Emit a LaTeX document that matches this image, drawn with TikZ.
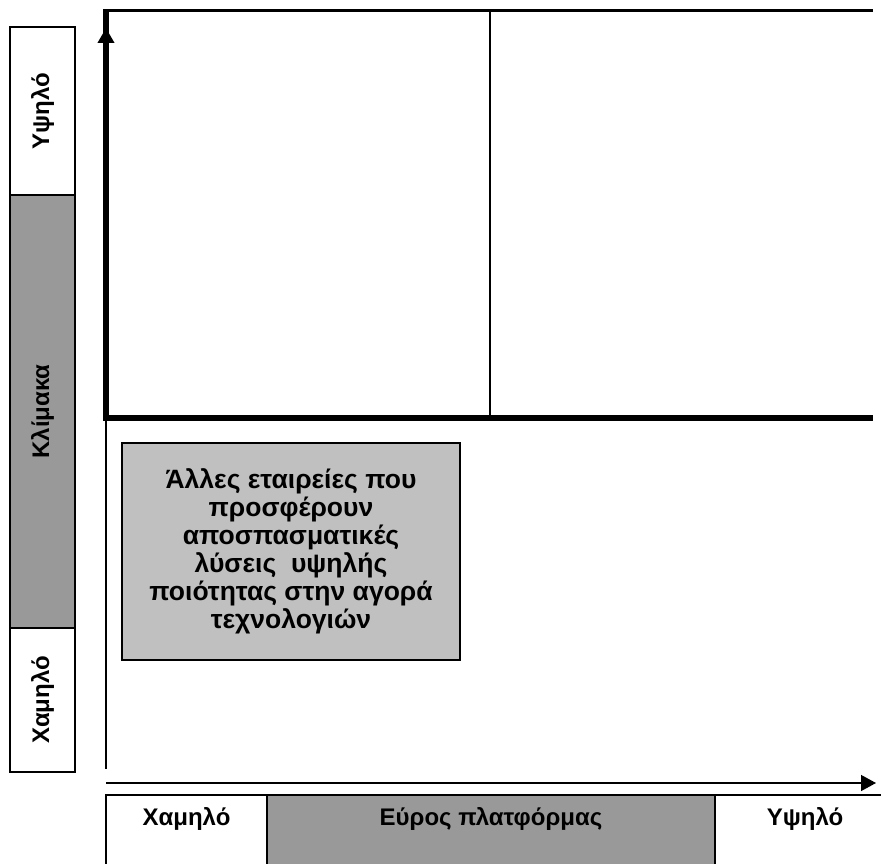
\documentclass[tikz,border=0pt]{standalone}
\usepackage{fontspec}
\setmainfont{Liberation Sans}
\usetikzlibrary{arrows.meta,positioning}

\definecolor{darkband}{HTML}{999999}
\definecolor{lightbox}{HTML}{C0C0C0}

\begin{document}
\begin{tikzpicture}[x=1pt,y=-1pt,
    band/.style={draw,line width=1.4pt,inner sep=0pt,outer sep=0pt,font=\bfseries\fontsize{24}{24}\selectfont},
    sideband/.style={band,rotate=90,minimum height=65},
    footband/.style={band,anchor=north west,minimum height=80,text height=30,text depth=50},
    axisarrow/.style={-{Triangle[length=15pt,width=16pt]}},
    note/.style={draw,line width=1.4pt,fill=lightbox,align=center,inner sep=0pt,
      minimum width=338,minimum height=217,
      font=\bfseries\fontsize{26.5}{28}\selectfont}]
  \clip (0,0) rectangle (881,864);
  % vertical scale
  \node[sideband,minimum width=168] (yhigh) at (42.5,111) {Υψηλό};
  \node[sideband,minimum width=433,fill=darkband] (yscale) at (42.5,411.5) {Κλίμακα};
  \node[sideband,minimum width=144] (ylow) at (42.5,700) {Χαμηλό};
  % horizontal scale
  \node[footband,minimum width=161] (xlow) at (106,795) {Χαμηλό};
  \node[footband,minimum width=448,fill=darkband,right=0pt of xlow] (xrange) {Εύρος πλατφόρμας};
  \node[footband,minimum width=180,right=0pt of xrange] (xhigh) {Υψηλό};
  % axes and frame
  \coordinate (o) at (106,418);
  \coordinate (tl) at (106,10.5);
  \coordinate (ytip) at (106,28);
  \coordinate (tm) at (490,10.5);
  \coordinate (tr) at (873,10.5);
  \coordinate (mm) at (490,418);
  \coordinate (mr) at (873,418);
  \coordinate (lo) at (106,769);
  \coordinate (xo) at (106,783);
  \coordinate (xtip) at (876,783);
  \draw[line width=6pt] (o) -- (tl);
  \draw[line width=3pt] (103,10.5) -- (tr);
  \draw[line width=6pt] (103,418) -- (mr);
  \draw[line width=1.4pt] (tm) -- (mm);
  \draw[line width=6pt,axisarrow] (o) -- (ytip);
  \draw[line width=1.4pt] (106,421) -- (lo);
  \draw[line width=1.4pt,axisarrow] (xo) -- (xtip);
  % quadrant note
  \node[note] (others) at (291,551.5) {Άλλες εταιρείες που\\προσφέρουν\\αποσπασματικές\\λύσεις\ \ υψηλής\\ποιότητας στην αγορά\\τεχνολογιών};
\end{tikzpicture}
\end{document}
